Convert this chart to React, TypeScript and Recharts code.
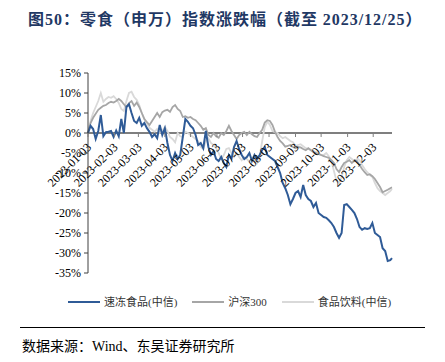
import { LineChart, Line, XAxis, YAxis, ReferenceLine, Legend } from "recharts";

// x positions are calendar days counted from 2023-01-03
const days = [
  0, 3, 6, 9, 12, 15, 18, 21, 24, 27, 30, 33, 36, 39, 42, 45, 48, 51, 54, 57,
  60, 63, 66, 69, 72, 75, 78, 81, 84, 87, 90, 93, 96, 99, 102, 105, 108, 111, 114, 117,
  120, 123, 126, 129, 132, 135, 138, 141, 144, 147, 150, 153, 156, 159, 162, 165, 168, 171, 174, 177,
  180, 183, 186, 189, 192, 195, 198, 201, 204, 207, 210, 213, 216, 219, 222, 225, 228, 231, 234, 237,
  240, 243, 246, 249, 252, 255, 258, 261, 264, 267, 270, 273, 276, 279, 282, 285, 288, 291, 294, 297,
  300, 303, 306, 309, 312, 315, 318, 321, 324, 327, 330, 333, 336, 339, 342, 345, 348, 351, 354, 356,
];

const tickDays = [0, 31, 59, 90, 120, 151, 181, 212, 243, 273, 304, 334];
const tickLabels = [
  "2023-01-03", "2023-02-03", "2023-03-03", "2023-04-03", "2023-05-03", "2023-06-03",
  "2023-07-03", "2023-08-03", "2023-09-03", "2023-10-03", "2023-11-03", "2023-12-03",
];

const yTicks = [-35, -30, -25, -20, -15, -10, -5, 0, 5, 10, 15];

// 速冻食品(中信)
const frozenFood = [
  0, 1.8, 1.0, -1.5, 0.5, 4.5, -0.8, 0.2, 0.3, 0.5,
  -1.0, 0.6, -0.8, 3.5, 0.0, 6.5, 7.2, 5.0, 3.0, 2.5,
  3.8, 1.8, 2.5, 1.2, 0.3, -1.0, -0.3, -1.3, 2.0, -0.5,
  1.2, -2.5, -5.5, -7.0, -5.0, -6.5, -5.5, -1.0, 3.5, 2.8,
  1.8, 1.2, -0.5, -3.0, -2.5, -3.8, 0.5, -3.5, -5.5, -4.5,
  -6.5, -7.0, -6.0, -7.5, -8.5, -5.5, -6.5, -3.5, -2.0, -4.0,
  -5.5, -6.5, -6.0, -5.0, -7.0, -5.5, -6.5, -5.5, -4.2, -3.5,
  -5.5, -6.0, -6.5, -7.0, -8.5, -10.0, -12.5, -13.8, -15.5, -17.8,
  -16.5, -15.0, -14.5, -16.0, -13.0, -15.5, -16.5, -17.0, -18.5, -17.5,
  -20.0, -20.5, -21.0, -21.2, -21.8, -22.5, -23.5, -25.0, -26.2, -25.0,
  -18.0, -17.8, -18.5, -19.2, -20.0, -21.5, -23.5, -24.2, -23.8, -24.0,
  -23.8, -22.5, -25.0, -25.5, -26.0, -28.8, -29.5, -32.0, -31.8, -31.3,
];

// 沪深300
const hs300 = [
  0, 2.5, 3.8, 4.8, 5.8, 6.3, 6.8, 7.0, 7.5, 7.8,
  7.6, 8.0, 8.5, 8.0, 7.2, 6.5, 7.5, 8.0, 6.8, 7.6,
  6.5, 5.0, 3.5, 2.7, 2.0, 3.0, 4.0, 5.0, 4.0, 5.2,
  5.6, 5.8, 5.3, 6.5, 7.0, 6.0, 5.5, 4.0, 4.2, 3.8,
  4.0, 3.5, 3.2, 2.5, 1.8, 0.8, 1.2, -0.5, -1.0, 0.0,
  -0.8, -1.2, 0.0, -0.5, 0.5, 1.8, 0.5, -0.5, -1.5, -0.5,
  0.0, 0.3, -0.5, 0.3, -0.3, -0.8, -1.0, 0.0, 0.8, 2.6,
  3.2, 3.0, 2.0, 0.3, -1.0, -2.0, -2.6, -3.4, -3.2, -3.0,
  -3.5, -3.8, -3.5, -3.6, -4.0, -4.3, -3.8, -4.3, -4.8, -5.0,
  -5.3, -5.5, -5.8, -6.0, -6.2, -6.7, -7.5, -9.0, -9.8, -8.5,
  -7.5, -7.2, -6.8, -7.5, -6.8, -7.0, -8.0, -9.0, -9.8, -10.5,
  -10.3, -10.8, -11.5, -12.5, -13.5, -14.8, -14.5, -14.2, -13.8, -13.6,
];

// 食品饮料(中信)
const foodBev = [
  0, 3.0, 5.0, 6.5, 8.0, 10.0, 7.8, 8.5, 9.0, 8.8,
  9.2, 8.5, 7.5, 6.0, 5.5, 8.0, 10.0, 10.3, 9.0, 8.3,
  7.0, 5.0, 3.5, 2.5, 1.3, 0.8, 0.3, 1.0, 0.0, 0.5,
  1.5, 0.5, -1.0, -1.5, -2.3, 0.0, -0.8, -1.0, 0.3, 0.0,
  -0.5, -1.0, -1.5, -2.0, -3.5, -4.0, -2.0, -1.3, -2.5, -3.0,
  -3.8, -5.0, -6.5, -5.5, -4.0, -3.8, -5.0, -6.0, -5.0, -6.0,
  -6.8, -6.0, -6.5, -7.2, -6.5, -6.8, -7.5, -6.0, -2.0, 1.5,
  2.8, 2.0, 0.5, 0.2, 0.0, -0.8, -1.3, -1.0, -1.5, -2.0,
  -2.3, -3.2, -3.0, -2.8, -3.3, -3.8, -4.0, -4.2, -4.5, -4.8,
  -5.0, -5.5, -5.5, -5.0, -5.8, -7.0, -9.5, -12.0, -12.5, -11.0,
  -8.5, -6.8, -6.0, -6.5, -7.0, -6.5, -6.8, -8.0, -9.0, -9.8,
  -10.5, -11.0, -12.5, -13.8, -14.5, -15.0, -15.5, -15.0, -14.5, -14.0,
];

const data = days.map((day, i) => ({
  day,
  frozen: frozenFood[i],
  hs300: hs300[i],
  food: foodBev[i],
}));

const series = [
  { key: "frozen", name: "速冻食品(中信)", color: "#2F5B97" },
  { key: "hs300", name: "沪深300", color: "#A6A6A6" },
  { key: "food", name: "食品饮料(中信)", color: "#D9D9D9" },
];

const MARGIN = { top: 73, right: 53, bottom: 10, left: 28 };
const PLOT_H = 200;
const Y_MIN = -35;
const Y_MAX = 15;
const ZERO_Y = MARGIN.top + (PLOT_H * Y_MAX) / (Y_MAX - Y_MIN);

const SERIF = "'Liberation Serif', 'Noto Sans CJK SC', serif";
const CJK = "'Noto Sans CJK SC', sans-serif";

function ZeroAxisTick(props: any) {
  const { x, payload } = props;
  const label = tickLabels[tickDays.indexOf(payload.value)];
  const tx = x + 4;
  const ty = ZERO_Y + 15;
  return (
    <g>
      <line x1={x} y1={ZERO_Y} x2={x} y2={ZERO_Y + 4} stroke="#7F7F7F" strokeWidth={1} />
      <text
        x={tx}
        y={ty}
        textAnchor="end"
        transform={`rotate(-45 ${tx} ${ty})`}
        fontSize={12}
        fontFamily={SERIF}
        fill="#000"
      >
        {label}
      </text>
    </g>
  );
}

function renderLegend() {
  return (
    <div style={{ height: 36, paddingTop: 20, boxSizing: "border-box", display: "flex", paddingLeft: 68 }}>
      {series.map((s) => (
        <div key={s.key} style={{ display: "flex", alignItems: "center", marginRight: 15, height: 16 }}>
          <svg width={32} height={4} style={{ marginRight: 4 }}>
            <line x1={0} y1={2} x2={32} y2={2} stroke={s.color} strokeWidth={2} />
          </svg>
          <span style={{ fontSize: 11, fontFamily: SERIF, color: "#333", lineHeight: "16px" }}>{s.name}</span>
        </div>
      ))}
    </div>
  );
}

const serifSpan = { fontFamily: "'Liberation Serif', serif" };

export default function App() {
  return (
    <div style={{ position: "absolute", left: 0, top: 0, width: 445, height: 362, background: "#fff" }}>
      <div
        style={{
          position: "absolute",
          left: 28,
          top: 7,
          fontSize: 16,
          fontWeight: "bold",
          color: "#1F3864",
          fontFamily: CJK,
          whiteSpace: "nowrap",
          lineHeight: "22px",
          letterSpacing: 1,
        }}
      >
        图<span style={serifSpan}>50</span>：零食（申万）指数涨跌幅（截至 <span style={serifSpan}>2023/12/25</span>）
      </div>
      <div style={{ position: "absolute", left: 0, top: 0 }}>
        <LineChart width={445} height={320} data={data} margin={MARGIN}>
          <XAxis
            type="number"
            dataKey="day"
            domain={[0, 356]}
            ticks={tickDays}
            interval={0}
            height={1}
            axisLine={false}
            tickLine={false}
            tick={(p: any) => <ZeroAxisTick {...p} />}
          />
          <YAxis
            domain={[Y_MIN, Y_MAX]}
            ticks={yTicks}
            interval={0}
            width={60}
            tickSize={4}
            tickMargin={3}
            tickFormatter={(v: number) => `${v}%`}
            axisLine={{ stroke: "#404040" }}
            tickLine={{ stroke: "#404040" }}
            tick={{ fontSize: 12, fill: "#000", fontFamily: SERIF }}
          />
          <ReferenceLine y={0} stroke="#7F7F7F" strokeWidth={1.8} />
          <Line type="linear" dataKey="food" stroke="#D9D9D9" strokeWidth={1.8} dot={false} isAnimationActive={false} />
          <Line type="linear" dataKey="hs300" stroke="#A6A6A6" strokeWidth={1.8} dot={false} isAnimationActive={false} />
          <Line type="linear" dataKey="frozen" stroke="#2F5B97" strokeWidth={2} dot={false} isAnimationActive={false} />
          <Legend verticalAlign="bottom" content={renderLegend} wrapperStyle={{ left: 0, width: 445 }} />
        </LineChart>
      </div>
      <div style={{ position: "absolute", left: 20, top: 327, width: 405, borderTop: "1.5px solid #000" }} />
      <div
        style={{
          position: "absolute",
          left: 22,
          top: 338,
          fontSize: 14,
          color: "#000",
          fontFamily: SERIF,
          whiteSpace: "nowrap",
          lineHeight: "18px",
        }}
      >
        数据来源：Wind、东吴证券研究所
      </div>
    </div>
  );
}
